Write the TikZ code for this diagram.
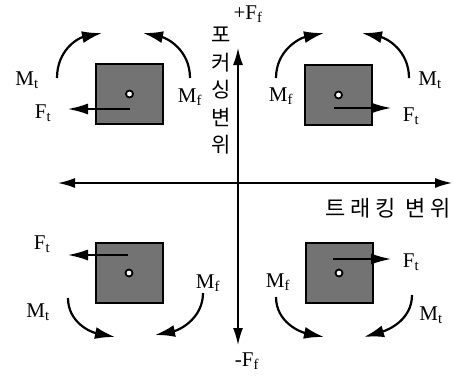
\documentclass[tikz,border=0pt]{standalone}
\usepackage{fontspec}
\setmainfont{Liberation Serif}
\newfontfamily\kr{Noto Sans CJK KR}
\newfontfamily\krs[LetterSpace=22]{Noto Sans CJK KR}
\usetikzlibrary{arrows.meta}
\begin{document}
\begin{tikzpicture}[x=1pt,y=-1pt,
  lbl/.style={font=\fontsize{21}{23}\selectfont, inner sep=0pt},
  blk/.style={draw=black, line width=2pt, fill=black!55, minimum width=67pt, minimum height=60pt, inner sep=0pt},
  dot/.style={circle, draw=black, line width=1.8pt, fill=white, inner sep=0pt, minimum size=7pt},
  axis/.style={line width=1.5pt, {Latex[length=17pt,width=10pt]}-{Latex[length=17pt,width=10pt]}},
  force/.style={line width=1.5pt, -{Latex[length=20pt,width=11pt]}},
  moment/.style={line width=2.2pt, -{Latex[length=20pt,width=12pt]}}]
\useasboundingbox (0,0) rectangle (454,380);
% axes
\coordinate (xl) at (58,183);
\coordinate (xr) at (452,183);
\coordinate (yt) at (238,48);
\coordinate (yb) at (238,345);
\draw[axis] (xl) -- (xr);
\draw[axis] (yb) -- (yt);
\node[lbl] (pf) at (248,14) {+F\textsubscript{f}};
\node[lbl] (mf) at (247,361) {-F\textsubscript{f}};
\node[font=\kr\fontsize{21}{27.5}\selectfont, align=center, inner sep=0pt] (fv) at (221,91) {포\\커\\싱\\변\\위};
\node[font=\krs\fontsize{22}{24}\selectfont, inner sep=0pt] (fh) at (388,208) {트래킹 변위};
% boxes
\node[blk] (b1) at (129.5,94) {};
\node[blk] (b2) at (338.5,95) {};
\node[blk] (b3) at (129,273) {};
\node[blk] (b4) at (339,273) {};
% forces
\coordinate (f1s) at (130,109); \coordinate (f1e) at (68,109);
\coordinate (f2s) at (334,108); \coordinate (f2e) at (391,108);
\coordinate (f3s) at (128,255); \coordinate (f3e) at (68,255);
\coordinate (f4s) at (333,259); \coordinate (f4e) at (391,259);
\draw[force] (f1s) -- (f1e);
\draw[force] (f2s) -- (f2e);
\draw[force] (f3s) -- (f3e);
\draw[force] (f4s) -- (f4e);
\node[dot] (c1) at (b1.center) {};
\node[dot] (c2) at (b2.center) {};
\node[dot] (c3) at (b3.center) {};
\node[dot] (c4) at (b4.center) {};
% moments
\coordinate (m1a) at (57,78);  \coordinate (m1b) at (102,33);
\coordinate (m2a) at (190,78); \coordinate (m2b) at (143,33);
\coordinate (m3a) at (276,78); \coordinate (m3b) at (324,33);
\coordinate (m4a) at (409,78); \coordinate (m4b) at (362,33);
\coordinate (m5a) at (68,298); \coordinate (m5b) at (115,337);
\coordinate (m6a) at (203,293); \coordinate (m6b) at (155,335);
\coordinate (m7a) at (276,297); \coordinate (m7b) at (324,337);
\coordinate (m8a) at (412,295); \coordinate (m8b) at (364,337);
\draw[moment] (m1a) .. controls (57,50) and (78,38) .. (m1b);
\draw[moment] (m2a) .. controls (190,50) and (167,38) .. (m2b);
\draw[moment] (m3a) .. controls (276,50) and (300,38) .. (m3b);
\draw[moment] (m4a) .. controls (409,50) and (386,38) .. (m4b);
\draw[moment] (m5a) .. controls (68,322) and (90,332) .. (m5b);
\draw[moment] (m6a) .. controls (203,318) and (180,330) .. (m6b);
\draw[moment] (m7a) .. controls (276,322) and (300,332) .. (m7b);
\draw[moment] (m8a) .. controls (412,320) and (388,330) .. (m8b);
% labels
\node[lbl] (l1) at (27,80) {M\textsubscript{t}};
\node[lbl] (l2) at (43,113) {F\textsubscript{t}};
\node[lbl] (l3) at (190,97) {M\textsubscript{f}};
\node[lbl] (l4) at (281,96) {M\textsubscript{f}};
\node[lbl] (l5) at (430,80) {M\textsubscript{t}};
\node[lbl] (l6) at (411,116) {F\textsubscript{t}};
\node[lbl] (l7) at (42,244) {F\textsubscript{t}};
\node[lbl] (l8) at (38,312) {M\textsubscript{t}};
\node[lbl] (l9) at (208,283) {M\textsubscript{f}};
\node[lbl] (l10) at (411,262) {F\textsubscript{t}};
\node[lbl] (l11) at (278,282) {M\textsubscript{f}};
\node[lbl] (l12) at (431,315) {M\textsubscript{t}};
\end{tikzpicture}
\end{document}
